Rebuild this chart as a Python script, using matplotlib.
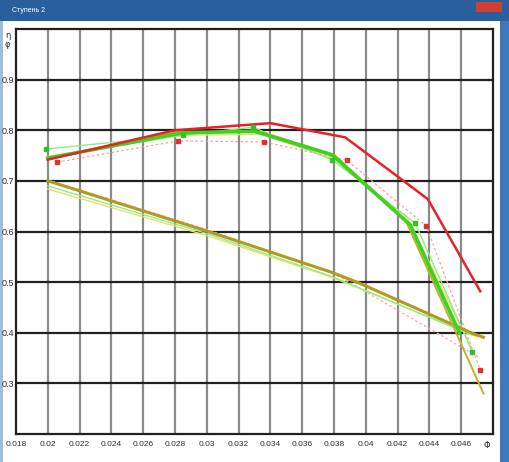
import matplotlib
matplotlib.use("Agg")
import matplotlib.pyplot as plt
from matplotlib.patches import Rectangle

# ---- data ----
x_ticks = [0.018, 0.02, 0.022, 0.024, 0.026, 0.028, 0.03, 0.032, 0.034,
           0.036, 0.038, 0.04, 0.042, 0.044, 0.046]
x_tick_labels = ["0.018", "0.02", "0.022", "0.024", "0.026", "0.028", "0.03",
                 "0.032", "0.034", "0.036", "0.038", "0.04", "0.042", "0.044", "0.046"]
y_ticks = [0.3, 0.4, 0.5, 0.6, 0.7, 0.8, 0.9]
y_tick_labels = ["0.3", "0.4", "0.5", "0.6", "0.7", "0.8", "0.9"]

# upper group (efficiency-like curves)
red_x = [0.020, 0.0280, 0.0340, 0.0387, 0.0439, 0.0472]
red_y = [0.742, 0.800, 0.814, 0.786, 0.664, 0.482]
redpts_x = [0.0206, 0.0282, 0.0336, 0.0388, 0.0438, 0.0472]
redpts_y = [0.737, 0.779, 0.777, 0.741, 0.611, 0.326]
green_x = [0.020, 0.0285, 0.0330, 0.0379, 0.0428, 0.0459]
green_y = [0.745, 0.795, 0.798, 0.751, 0.613, 0.399]
ltgreen_x = [0.0199, 0.0285, 0.0329, 0.0379, 0.0431, 0.0467]
ltgreen_y = [0.763, 0.790, 0.806, 0.741, 0.617, 0.362]
olive_up_x = [0.020, 0.0282, 0.0335, 0.0380, 0.0425, 0.0474]
olive_up_y = [0.743, 0.797, 0.796, 0.752, 0.622, 0.280]
yellow_up_x = [0.020, 0.0285, 0.0335, 0.0378, 0.0426, 0.0468]
yellow_up_y = [0.748, 0.790, 0.792, 0.745, 0.628, 0.360]

# lower group (nearly straight falling lines)
olive_lo_x = [0.020, 0.030, 0.0378, 0.0396, 0.0467, 0.0474]
olive_lo_y = [0.700, 0.601, 0.520, 0.498, 0.399, 0.391]
green_lo_x = [0.020, 0.030, 0.0378, 0.0467]
green_lo_y = [0.690, 0.596, 0.512, 0.395]
yellow_lo_x = [0.020, 0.030, 0.0380, 0.0470]
yellow_lo_y = [0.684, 0.592, 0.508, 0.392]
pink_lo_x = [0.020, 0.030, 0.0380, 0.0471]
pink_lo_y = [0.702, 0.604, 0.517, 0.352]

fig = plt.figure(figsize=(5.10, 4.62), dpi=100)
fig.patch.set_facecolor("white")

# window chrome (background axes covering the whole figure)
bg = fig.add_axes([0, 0, 1, 1], zorder=-10)
bg.set_xlim(0, 510)
bg.set_ylim(462, 0)
bg.axis("off")
bg.add_patch(Rectangle((0, 0), 510, 21, facecolor="#2a5f9e", edgecolor="none"))
bg.add_patch(Rectangle((500, 21), 10, 441, facecolor="#3d78b8", edgecolor="none"))
bg.add_patch(Rectangle((0, 21), 3, 441, facecolor="#9fbcd8", edgecolor="none"))
bg.add_patch(Rectangle((476, 2), 26, 10, facecolor="#d04030", edgecolor="none"))
bg.text(12, 10, "Ступень 2", fontsize=5, color="white",
        va="center", ha="left", family="Liberation Sans")
bg.text(5, 40, "η\nφ", fontsize=6, color="#303030",
        ha="left", va="center", family="DejaVu Sans", linespacing=1.0)
bg.text(487, 446, "Φ", fontsize=6, color="#303030",
        ha="center", va="center", family="DejaVu Sans")

ax = fig.add_axes([16/510, 1 - 434/462, (493 - 16)/510, (434 - 29)/462], zorder=5)
ax.set_facecolor("white")
ax.set_xlim(0.018, 0.048)
ax.set_ylim(0.2, 1.0)

for xv in x_ticks[1:]:
    ax.axvline(xv, color="#8a8a8a", lw=1.6, zorder=1)
for yv in y_ticks:
    ax.axhline(yv, color="#202020", lw=1.6, zorder=1)

ax.set_xticks(x_ticks)
ax.set_xticklabels(x_tick_labels, family="Liberation Sans", fontsize=6, color="#303030")
ax.set_yticks(y_ticks)
ax.set_yticklabels(y_tick_labels, family="Liberation Sans", fontsize=6.5, color="#303030")
ax.tick_params(length=0, pad=5)
ax.tick_params(axis="y", pad=1)
for s in ax.spines.values():
    s.set_color("#202020")
    s.set_linewidth(1.6)

# lower group
ax.plot(pink_lo_x, pink_lo_y, color="#f5a8a8", lw=0.9, ls=(0, (2, 2)), zorder=3)
ax.plot(yellow_lo_x, yellow_lo_y, color="#e6e070", lw=1.0, zorder=3)
ax.plot(green_lo_x, green_lo_y, color="#90ee80", lw=1.0, zorder=3)
ax.plot(olive_lo_x, olive_lo_y, color="#b09a20", lw=2.2, zorder=4)

# upper group
ax.plot(yellow_up_x, yellow_up_y, color="#e8e070", lw=1.0, zorder=3)
ax.plot(ltgreen_x, ltgreen_y, color="#90ee80", lw=1.0, zorder=3)
ax.plot(ltgreen_x, ltgreen_y, ls="none", marker="s", ms=3, color="#30c030", zorder=6)
ax.plot(redpts_x, redpts_y, color="#f5a0a0", lw=0.9, ls=(0, (2, 2)), zorder=3)
ax.plot(redpts_x, redpts_y, ls="none", marker="s", ms=3, color="#e03030", zorder=6)
ax.plot(olive_up_x, olive_up_y, color="#c0b030", lw=1.4, zorder=4)
ax.plot(green_x, green_y, color="#40d020", lw=2.6, zorder=5)
ax.plot(red_x, red_y, color="#e8202a", lw=1.8, zorder=5)

fig.savefig("out.png", dpi=100, facecolor=fig.get_facecolor())
